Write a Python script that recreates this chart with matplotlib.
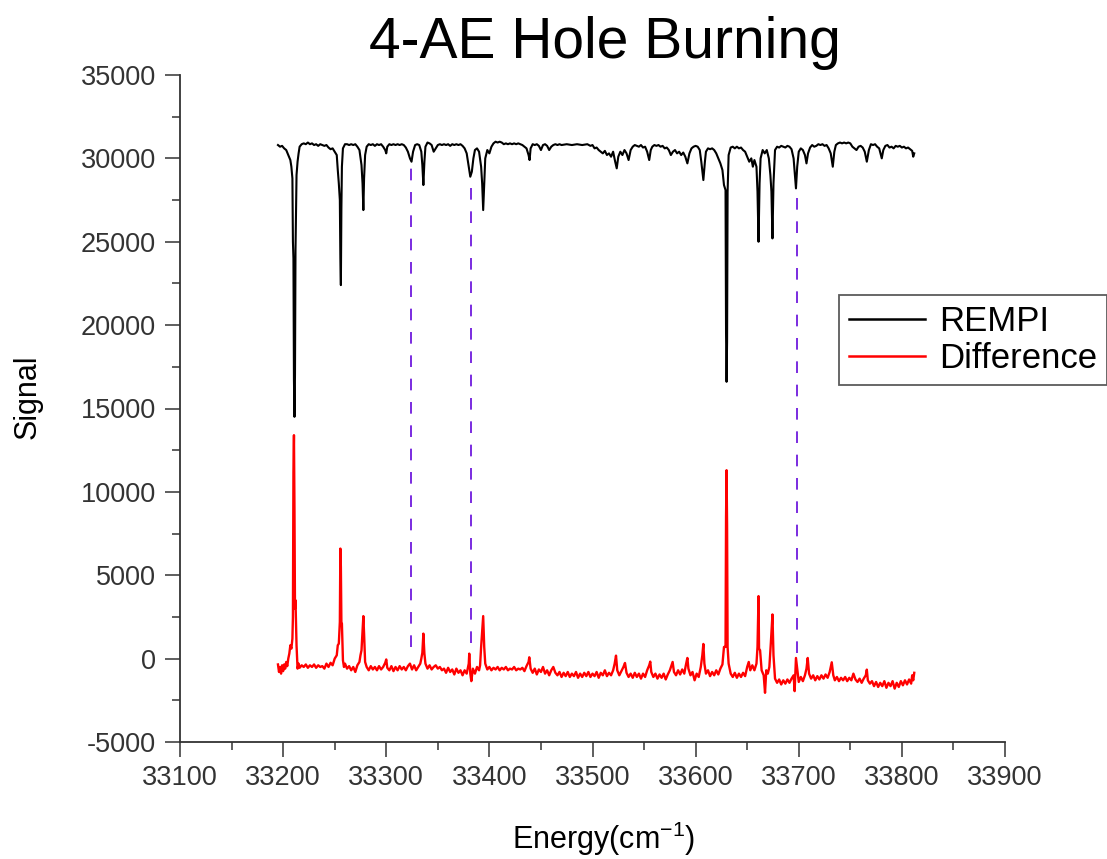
"""4-AE hole burning: REMPI trace and difference spectrum."""

import matplotlib
matplotlib.use("Agg")
import matplotlib.pyplot as plt
from matplotlib.ticker import MultipleLocator
import numpy as np

# REMPI trace (energy in cm^-1, signal)
rempi_points = [
    (33195, 30800), (33197, 30700), (33199, 30750), (33201, 30600), (33203, 30500),
    (33205, 30200), (33207, 29900), (33208, 29500), (33209, 28800), (33209.5, 25000),
    (33210, 24000), (33210.5, 16700), (33211, 14500), (33211.5, 17000), (33212, 24500),
    (33213, 29000), (33214, 29800), (33215, 30300), (33216, 30700), (33218, 30850),
    (33220, 30900), (33222, 30850), (33224, 30950), (33226, 30850), (33228, 30900),
    (33230, 30800), (33232, 30850), (33234, 30750), (33236, 30850), (33238, 30800),
    (33240, 30750), (33242, 30800), (33244, 30650), (33246, 30550), (33248, 30600),
    (33250, 30400), (33252, 30200), (33253, 29300), (33254, 28500), (33255, 27500),
    (33255.5, 24000), (33256, 22400), (33256.5, 27000), (33257, 29500), (33258, 30600),
    (33260, 30850), (33262, 30850), (33264, 30800), (33266, 30850), (33268, 30800),
    (33270, 30850), (33272, 30700), (33274, 30500), (33276, 29600), (33277, 28500),
    (33277.8, 26900), (33278.5, 28800), (33279.5, 30200), (33281, 30700), (33283, 30850),
    (33285, 30800), (33287, 30850), (33289, 30750), (33291, 30850), (33293, 30800),
    (33295, 30850), (33297, 30700), (33299, 30500), (33300, 30300), (33301, 30700),
    (33303, 30850), (33305, 30800), (33307, 30850), (33309, 30800), (33311, 30850),
    (33313, 30800), (33315, 30850), (33317, 30800), (33319, 30650), (33321, 30400),
    (33323, 30000), (33324.5, 29800), (33326, 30400), (33328, 30800), (33330, 30850),
    (33332, 30800), (33334, 30400), (33335, 29600), (33336, 28400), (33337, 29800),
    (33338, 30700), (33340, 30950), (33342, 30900), (33344, 30800), (33346, 30400),
    (33348, 30600), (33350, 30800), (33352, 30850), (33354, 30800), (33356, 30850),
    (33358, 30800), (33360, 30850), (33362, 30750), (33364, 30850), (33366, 30800),
    (33368, 30850), (33370, 30800), (33372, 30850), (33374, 30750), (33376, 30600),
    (33378, 30300), (33380, 29500), (33381.5, 28900), (33383, 29200), (33384.5, 30000),
    (33386, 30500), (33388, 30600), (33390, 30400), (33392, 29500), (33393, 28500),
    (33394, 26900), (33395, 28500), (33396, 30000), (33398, 30500), (33400, 30300),
    (33402, 30700), (33404, 30900), (33406, 31000), (33408, 30950), (33410, 31000),
    (33412, 30950), (33414, 30850), (33416, 30900), (33418, 30850), (33420, 30900),
    (33422, 30850), (33424, 30900), (33426, 30850), (33428, 30900), (33430, 30850),
    (33432, 30800), (33434, 30700), (33436, 30600), (33438, 30200), (33439, 29900),
    (33440, 30600), (33442, 30850), (33444, 30800), (33446, 30850), (33448, 30750),
    (33450, 30500), (33452, 30800), (33454, 30850), (33456, 30750), (33458, 30500),
    (33460, 30700), (33462, 30800), (33464, 30850), (33466, 30800), (33468, 30850),
    (33470, 30800), (33475, 30850), (33480, 30800), (33485, 30850), (33490, 30800),
    (33495, 30850), (33498, 30750), (33500, 30800), (33502, 30600), (33504, 30650),
    (33506, 30500), (33508, 30400), (33510, 30300), (33512, 30450), (33514, 30200),
    (33516, 30300), (33518, 30100), (33520, 30400), (33522, 29800), (33523.5, 29400),
    (33525, 30100), (33527, 30400), (33529, 30200), (33531, 30500), (33533, 30300),
    (33535, 29900), (33537, 30500), (33539, 30700), (33541, 30800), (33543, 30750),
    (33545, 30700), (33547, 30800), (33549, 30650), (33551, 30700), (33553, 30400),
    (33555, 29900), (33556.5, 30500), (33558, 30700), (33560, 30800), (33562, 30750),
    (33564, 30800), (33566, 30700), (33568, 30750), (33570, 30600), (33572, 30650),
    (33574, 30500), (33576, 30200), (33578, 30400), (33580, 30500), (33582, 30300),
    (33584, 30400), (33586, 30200), (33588, 30350), (33590, 30100), (33592, 29700),
    (33594, 30300), (33596, 30600), (33598, 30700), (33600, 30750), (33602, 30700),
    (33604, 30500), (33605.5, 29800), (33607.5, 28700), (33609, 29800), (33610, 30400),
    (33612, 30600), (33614, 30550), (33616, 30600), (33618, 30500), (33620, 30300),
    (33622, 30000), (33624, 29700), (33626, 29300), (33627.5, 28400), (33629, 28100),
    (33629.5, 19500), (33630, 16600), (33630.5, 19000), (33631, 28000), (33632, 30200),
    (33634, 30650), (33636, 30700), (33638, 30600), (33640, 30700), (33642, 30600),
    (33644, 30650), (33646, 30500), (33648, 30400), (33650, 30100), (33652, 29800),
    (33654, 30000), (33655.5, 29500), (33657, 29900), (33659, 29500), (33660, 28000),
    (33661, 25000), (33662, 28500), (33663, 30000), (33665, 30500), (33667, 30300),
    (33669, 30500), (33671, 30000), (33672.5, 29000), (33673.5, 28000), (33674.5, 25200),
    (33675.5, 28500), (33677, 30500), (33679, 30700), (33681, 30650), (33683, 30750),
    (33685, 30700), (33687, 30650), (33689, 30750), (33691, 30700), (33693, 30550),
    (33695, 30000), (33696.5, 28800), (33697.3, 28200), (33698.5, 29500), (33700, 30400),
    (33702, 30600), (33704, 30500), (33706, 30200), (33707.5, 29700), (33709, 30300),
    (33711, 30650), (33713, 30800), (33715, 30700), (33717, 30750), (33719, 30850),
    (33721, 30800), (33723, 30850), (33725, 30750), (33727, 30800), (33729, 30600),
    (33731, 30300), (33733, 29500), (33734.5, 30400), (33736, 30800), (33738, 30900),
    (33740, 30950), (33742, 30900), (33744, 30950), (33746, 30900), (33748, 30950),
    (33750, 30900), (33752, 30700), (33754, 30600), (33756, 30500), (33758, 30700),
    (33760, 30750), (33762, 30650), (33764, 30400), (33766, 29800), (33768, 30500),
    (33770, 30850), (33772, 30800), (33774, 30850), (33776, 30700), (33778, 30600),
    (33780.5, 30000), (33782, 30500), (33784, 30750), (33786, 30800), (33788, 30650),
    (33790, 30700), (33792, 30600), (33794, 30750), (33796, 30700), (33798, 30750),
    (33800, 30650), (33802, 30700), (33804, 30600), (33806, 30650), (33808, 30550),
    (33810, 30450), (33811, 30100), (33812, 30300),
]

# hole-burning difference trace
difference_points = [
    (33195, -350), (33196, -800), (33197, -500), (33198, -900), (33199, -400),
    (33200, -750), (33201, -350), (33202, -600), (33203, -200), (33204, -450),
    (33205, 0), (33206, 300), (33207, 800), (33208, 600), (33209, 1200),
    (33209.5, 2500), (33210, 11200), (33210.5, 13400), (33211, 9000), (33211.5, 3000),
    (33212, 3500), (33212.5, 2200), (33213, 800), (33214, -600), (33215, -300),
    (33216, -550), (33218, -400), (33220, -500), (33222, -350), (33224, -550),
    (33226, -400), (33228, -500), (33230, -350), (33232, -550), (33234, -400),
    (33236, -500), (33238, -450), (33240, -600), (33242, -300), (33244, -500),
    (33246, -250), (33248, -400), (33250, 0), (33252, 200), (33253, 800),
    (33254, 900), (33255, 2200), (33255.5, 6600), (33256, 5500), (33256.5, 2200),
    (33257, 2100), (33258, -100), (33259, -500), (33260, -300), (33262, -600),
    (33264, -450), (33266, -700), (33268, -500), (33270, -800), (33272, -400),
    (33274, -200), (33275, 200), (33276, 500), (33277, 1700), (33277.8, 2550),
    (33278.5, 1500), (33279.5, -200), (33281, -500), (33283, -700), (33285, -450),
    (33287, -650), (33289, -500), (33291, -700), (33293, -450), (33295, -650),
    (33297, -500), (33299, -250), (33300, -50), (33301, -550), (33303, -700),
    (33305, -450), (33307, -750), (33309, -500), (33311, -700), (33313, -450),
    (33315, -650), (33317, -500), (33319, -700), (33321, -450), (33323, -300),
    (33325, -650), (33327, -400), (33329, -700), (33331, -500), (33333, -300),
    (33334, 0), (33335, 350), (33336, 1500), (33337, 300), (33338, -300),
    (33340, -600), (33342, -400), (33344, -650), (33346, -500), (33348, -400),
    (33350, -600), (33352, -500), (33354, -700), (33356, -600), (33358, -850),
    (33360, -550), (33362, -800), (33364, -650), (33366, -950), (33368, -600),
    (33370, -850), (33372, -700), (33374, -1000), (33376, -700), (33378, -900),
    (33380, -300), (33380.5, 300), (33381.5, -900), (33382.5, -1350), (33384, -600),
    (33386, -900), (33388, -500), (33390, -700), (33391, -400), (33392, 700),
    (33393, 1600), (33394, 2550), (33395, 700), (33396, -300), (33398, -650),
    (33400, -500), (33402, -700), (33404, -550), (33406, -650), (33408, -500),
    (33410, -700), (33412, -550), (33414, -650), (33416, -500), (33418, -700),
    (33420, -600), (33422, -650), (33424, -500), (33426, -700), (33428, -600),
    (33430, -650), (33432, -550), (33434, -750), (33436, -450), (33438, -200),
    (33438.7, 80), (33440, -600), (33442, -850), (33444, -600), (33446, -950),
    (33448, -650), (33450, -800), (33452, -500), (33454, -900), (33456, -700),
    (33458, -1000), (33460, -700), (33462, -500), (33464, -850), (33466, -1000),
    (33468, -800), (33470, -1100), (33472, -850), (33474, -1050), (33476, -800),
    (33478, -1100), (33480, -900), (33482, -1050), (33484, -800), (33486, -1150),
    (33488, -900), (33490, -1100), (33492, -850), (33494, -1050), (33496, -800),
    (33498, -1100), (33500, -900), (33502, -1050), (33504, -800), (33506, -1150),
    (33508, -850), (33510, -1000), (33512, -700), (33514, -1050), (33516, -850),
    (33518, -1000), (33520, -700), (33521.5, -300), (33522.8, 180), (33524, -700),
    (33526, -1000), (33528, -750), (33530, -500), (33531.5, -260), (33533, -850),
    (33535, -1100), (33537, -900), (33539, -1150), (33541, -850), (33543, -1100),
    (33545, -900), (33547, -1200), (33549, -900), (33551, -1100), (33553, -700),
    (33555, -400), (33556, -180), (33557, -800), (33559, -1100), (33561, -900),
    (33563, -1200), (33565, -950), (33567, -1150), (33569, -900), (33571, -1250),
    (33573, -950), (33575, -700), (33577.7, -200), (33579, -800), (33581, -1000),
    (33583, -700), (33585, -950), (33587, -650), (33589, -900), (33590.5, -400),
    (33592, 40), (33593, -600), (33595, -1000), (33597, -800), (33599, -1300),
    (33601, -900), (33603, -1100), (33605, -500), (33606.5, 200), (33607.5, 880),
    (33608.5, -300), (33610, -900), (33612, -700), (33614, -1050), (33616, -800),
    (33618, -1000), (33620, -700), (33622, -950), (33624, -600), (33626, -350),
    (33627.5, 700), (33629, 700), (33629.5, 8500), (33630, 11300), (33630.5, 8000),
    (33631, 700), (33632, -300), (33634, -900), (33636, -1100), (33638, -850),
    (33640, -1150), (33642, -900), (33644, -1100), (33646, -850), (33648, -1050),
    (33650, -500), (33651.5, -200), (33653, -700), (33655, -400), (33657, -700),
    (33659, -300), (33660, 700), (33661, 3750), (33661.5, 600), (33662.5, 500),
    (33664, -700), (33666, -1000), (33667.3, -2050), (33668.5, -700), (33670, -900),
    (33671.5, -500), (33673, 1000), (33674.5, 2650), (33675.5, 200), (33677, -1200),
    (33679, -1450), (33681, -1250), (33683, -1550), (33685, -1300), (33687, -1500),
    (33689, -1250), (33691, -1450), (33693, -1200), (33695, -1000), (33696, -1950),
    (33697.3, 40), (33698.5, -600), (33700, -1400), (33702, -1100), (33704, -1350),
    (33706, -1000), (33707.5, -600), (33708.7, 40), (33710, -900), (33712, -1200),
    (33714, -1000), (33716, -1300), (33718, -1050), (33720, -1250), (33722, -1000),
    (33724, -1200), (33726, -950), (33728, -1150), (33730, -800), (33732, -220),
    (33733.5, -1000), (33735, -1300), (33737, -1100), (33739, -1350), (33741, -1150),
    (33743, -1300), (33745, -1100), (33747, -1350), (33749, -1150), (33751, -1300),
    (33753, -900), (33755, -1250), (33757, -1400), (33759, -1200), (33761, -1450),
    (33763, -1200), (33765, -1000), (33766, -660), (33767, -1300), (33769, -1500),
    (33771, -1350), (33773, -1650), (33775, -1400), (33777, -1700), (33779, -1450),
    (33781, -1650), (33783, -1350), (33785, -1750), (33787, -1450), (33789, -1650),
    (33791, -1350), (33793, -1800), (33795, -1450), (33797, -1700), (33799, -1350),
    (33801, -1600), (33803, -1300), (33805, -1550), (33807, -1250), (33809, -1500),
    (33810, -1000), (33811, -1300), (33812, -850),
]

# burned transitions marked with dashed guides
burn_energy = [33324, 33382, 33698.6]
burn_top = [29440, 28250, 27730]
burn_bottom = [720, 960, 360]

plt.rcParams["font.family"] = ["Liberation Sans", "DejaVu Sans"]
plt.rcParams["mathtext.fontset"] = "custom"
plt.rcParams["mathtext.rm"] = "Liberation Sans"
plt.rcParams["mathtext.it"] = "Liberation Sans:italic"
plt.rcParams["axes.unicode_minus"] = False

fig = plt.figure(figsize=(11.07, 8.59), dpi=100)
ax = fig.add_axes([180 / 1107, 117 / 859, 825 / 1107, 667 / 859])

rempi = np.array(rempi_points)
diff = np.array(difference_points)
ax.plot(rempi[:, 0], rempi[:, 1], color="black", lw=1.5, label="REMPI")
ax.plot(diff[:, 0], diff[:, 1], color="#ff0000", lw=1.7, label="Difference")
ax.vlines(burn_energy, burn_bottom, burn_top, colors="#7a2be0",
          linestyles=(0, (6, 6)), lw=1.4)

ax.set_xlim(33100, 33900)
ax.set_ylim(-5000, 35000)
ax.xaxis.set_major_locator(MultipleLocator(100))
ax.xaxis.set_minor_locator(MultipleLocator(50))
ax.yaxis.set_major_locator(MultipleLocator(5000))
ax.yaxis.set_minor_locator(MultipleLocator(2500))

for side in ("top", "right"):
    ax.spines[side].set_visible(False)
for side in ("left", "bottom"):
    ax.spines[side].set_linewidth(1.3)
    ax.spines[side].set_color("#333333")

ax.tick_params(which="both", direction="out", width=1.1, color="#333333",
               labelsize=19.5, labelcolor="#333333")
ax.tick_params(which="major", length=10.5)
ax.tick_params(which="minor", length=6)
ax.tick_params(axis="x", pad=6)
ax.tick_params(axis="y", pad=7)

ax.set_title("4-AE Hole Burning", fontsize=41, pad=12, x=0.515)
ax.set_xlabel("Energy(cm$^{-1}$)", fontsize=22)
ax.set_ylabel("Signal", fontsize=22)
ax.xaxis.set_label_coords(0.513, -0.117)
ax.yaxis.set_label_coords(-0.167, 0.517)

leg = ax.legend(loc="upper left", bbox_to_anchor=(839 / 1107, 1 - 295 / 859),
                bbox_transform=fig.transFigure, fontsize=25, frameon=True,
                fancybox=False, borderpad=0.28, labelspacing=0.12,
                handlelength=2.2, handletextpad=0.4, borderaxespad=0)
leg.get_frame().set_edgecolor("#333333")
leg.get_frame().set_linewidth(1.3)
for line in leg.get_lines():
    line.set_linewidth(1.8)

fig.savefig("out.png", dpi=100)
